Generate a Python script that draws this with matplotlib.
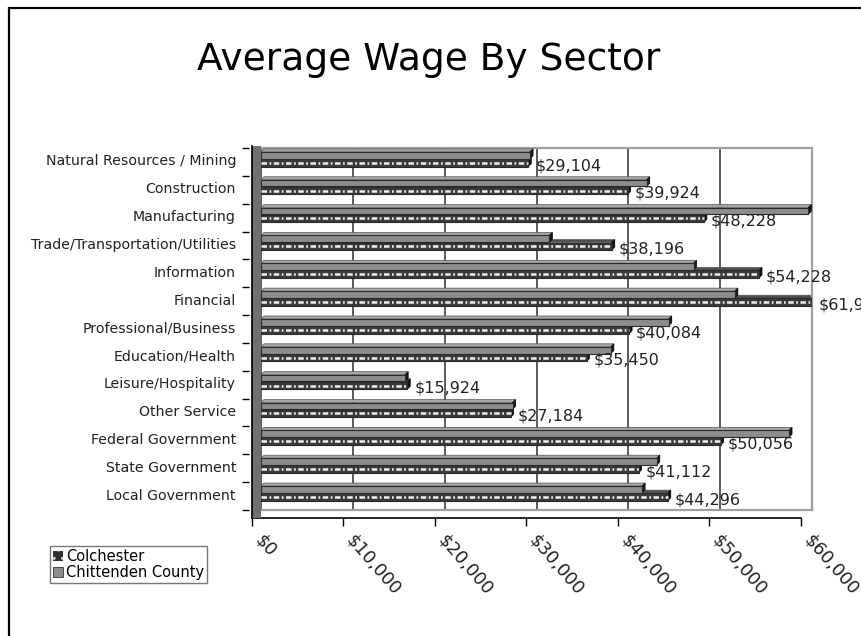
import numpy as np
import matplotlib.pyplot as plt
from matplotlib.patches import Polygon, Rectangle, Patch
from matplotlib.lines import Line2D
from matplotlib.transforms import ScaledTranslation

categories = ['Natural Resources / Mining', 'Construction', 'Manufacturing',
              'Trade/Transportation/Utilities', 'Information', 'Financial',
              'Professional/Business', 'Education/Health', 'Leisure/Hospitality',
              'Other Service', 'Federal Government', 'State Government',
              'Local Government']
colchester = [29104, 39924, 48228, 38196, 54228, 61932, 40084, 35450,
              15924, 27184, 50056, 41112, 44296]
chittenden = [29300, 42000, 59600, 31400, 47100, 51600, 44400, 38100,
              15700, 27400, 57500, 43100, 41500]
series_names = ['Colchester', 'Chittenden County']
xticks = np.arange(0, 60001, 10000)
xmax = 60000

W, H = 861, 636
fig = plt.figure(figsize=(W / 100, H / 100), dpi=100)


def px_box(l, t, r, b):
    return [l / W, 1 - b / H, (r - l) / W, (b - t) / H]


# outer chart frame
fig.add_artist(Rectangle((9 / W, -0.05), 1.2, 1 - 8 / H + 0.05,
                         transform=fig.transFigure, fill=False,
                         edgecolor='black', lw=1.6))

fig.text(429 / W, 1 - 70 / H, 'Average Wage By Sector', ha='center',
         va='baseline', fontsize=27)

# back wall
ax = fig.add_axes(px_box(261, 148, 812, 510))
ax.set_xlim(0, xmax)
ax.set_ylim(12.5, -0.5)
ax.set_xticks(xticks)
ax.tick_params(axis='x', length=0, labelbottom=False)
ax.grid(axis='x', color='#4d4d4d', lw=1.3)
ax.set_axisbelow(True)
for s in ['top', 'right', 'bottom']:
    ax.spines[s].set_color('#a0a0a0')
    ax.spines[s].set_linewidth(1.6)
ax.spines['left'].set_position(('outward', 9))
ax.spines['left'].set_visible(False)

n = len(categories)
rows = np.arange(n)
ax.set_yticks(rows - 0.07)
ax.set_yticklabels(categories, fontsize=10.2, color='#222222')
ax.tick_params(axis='y', which='major', length=0, pad=9)
ax.set_yticks(np.arange(-0.5, n, 1), minor=True)
ax.tick_params(axis='y', which='minor', length=5, width=1, color='black',
               direction='out')

# left side panel of the 3-D box
fig.add_artist(Rectangle((252 / W, 1 - 518 / H), 9 / W, 372 / H,
                         transform=fig.transFigure, facecolor='#707070',
                         edgecolor='none', zorder=1))
fig.add_artist(Line2D([252.5 / W, 252.5 / W], [1 - 518 / H, 1 - 146 / H],
                      color='black', lw=1.2, zorder=3))

# depth of the bars, in data units
ax_w_px = 812 - 261
ax_h_px = 510 - 148
ddx = 3 * xmax / ax_w_px
ddy = 3 * n / ax_h_px

y_col = rows + 0.03
y_chi = rows - 0.24
h_col = 0.27
h_chi = 0.24


def bar3d(y, v, h, face, top, end, z):
    ax.barh(y, v, height=h, color=face, edgecolor='#2a2a2a', lw=0.8, zorder=z)
    t = y - h / 2
    b = y + h / 2
    ax.add_patch(Polygon([(0, t), (v, t), (v + ddx, t - ddy), (ddx, t - ddy)],
                         closed=True, facecolor=top, edgecolor='#555555',
                         lw=0.5, zorder=z - 0.5))
    ax.add_patch(Polygon([(v, t), (v + ddx, t - ddy), (v + ddx, b - ddy), (v, b)],
                         closed=True, facecolor=end, edgecolor='black',
                         lw=0.5, zorder=z - 0.2))


for y, v in zip(y_col, colchester):
    bar3d(y, v, h_col, '#3a3a3a', '#505050', '#111111', 3)
    ax.plot([0, v], [y, y], color='#f0f0f0', lw=1.8,
            ls=(0, (2.2, 1.0, 0.7, 1.0)), dash_capstyle='butt', zorder=3.1)
for y, v in zip(y_chi, chittenden):
    bar3d(y, v, h_chi, '#8c8c8c', '#a6a6a6', '#1a1a1a', 4)

for y, v in zip(y_col, colchester):
    ax.annotate(f'${v:,}', xy=(min(v, xmax), y), xytext=(5, -2),
                textcoords='offset points', ha='left', va='center',
                fontsize=11.5, color='#222222', annotation_clip=False,
                zorder=6)

# front edge carrying the value axis
ax2 = fig.add_axes(px_box(252, 150, 801, 518))
ax2.patch.set_visible(False)
ax2.set_xlim(0, xmax)
ax2.set_yticks([])
for s in ['top', 'right', 'left']:
    ax2.spines[s].set_visible(False)
ax2.spines['bottom'].set_linewidth(1.2)
ax2.set_xticks(xticks)
ax2.set_xticklabels([f'${t:,}' for t in xticks], fontsize=13, color='#222222')
ax2.tick_params(axis='x', direction='out', length=6, width=1, pad=8)
shift = ScaledTranslation(6 / 100, 0, fig.dpi_scale_trans)
for lab in ax2.get_xticklabels():
    lab.set_rotation(-49)
    lab.set_rotation_mode('anchor')
    lab.set_ha('left')
    lab.set_va('center')
    lab.set_transform(lab.get_transform() + shift)

handles = [Patch(facecolor='#2e2e2e', edgecolor='#cccccc', hatch='..', lw=0),
           Patch(facecolor='#8c8c8c', edgecolor='#333333', lw=0.6)]
fig.legend(handles, series_names, loc='upper left',
           bbox_to_anchor=(50 / W, 1 - 546 / H), bbox_transform=fig.transFigure,
           fontsize=10.5, frameon=True, fancybox=False, edgecolor='#555555',
           borderpad=0.2, handlelength=0.7, handleheight=0.7,
           handletextpad=0.2, labelspacing=0.1, borderaxespad=0)

fig.savefig('out.png', dpi=100)
